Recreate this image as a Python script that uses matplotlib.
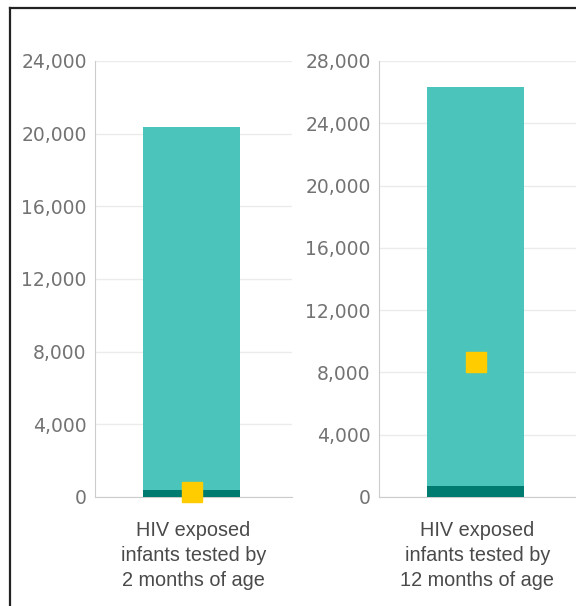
import matplotlib.pyplot as plt
from matplotlib.lines import Line2D
from matplotlib.ticker import FuncFormatter

categories = ["HIV exposed\ninfants tested by\n2 months of age",
              "HIV exposed\ninfants tested by\n12 months of age"]
totals = [20350, 26350]
dark_vals = [380, 720]
marker_vals = [280, 8680]
y_max = [24000, 28000]
y_step = [4000, 4000]

teal = '#4bc5bb'
dark = '#007b6f'
yellow = '#ffcc00'

fig = plt.figure(figsize=(5.76, 6.06), dpi=100)
fig.patch.set_facecolor('white')

# frame (only left and top edges visible in the crop)
fig.add_artist(Line2D([9.5/576, 9.5/576], [0, 1 - 8/606], color='#222222', lw=1.6, transform=fig.transFigure))
fig.add_artist(Line2D([9.5/576, 1], [1 - 8/606, 1 - 8/606], color='#222222', lw=1.6, transform=fig.transFigure))

lefts = [95/576, 379/576]
widths = [197/576, 197/576]
bottom = 1 - 497/606
height = (497 - 61)/606

fmt = FuncFormatter(lambda v, p: f"{int(v):,}")

for i in range(2):
    ax = fig.add_axes([lefts[i], bottom, widths[i], height])
    ax.bar(-0.01, totals[i], width=0.49, color=teal, zorder=2)
    ax.bar(-0.01, dark_vals[i], width=0.49, color=dark, zorder=3)
    ax.plot(-0.01, marker_vals[i], 's', color=yellow, markersize=14.5, zorder=4, clip_on=False)
    ax.set_xlim(-0.5, 0.5)
    ax.set_ylim(0, y_max[i])
    ax.set_yticks(range(0, y_max[i] + 1, y_step[i]))
    ax.yaxis.set_major_formatter(fmt)
    ax.grid(axis='y', color='#ebebeb', lw=1, zorder=0)
    ax.set_axisbelow(True)
    for s in ['top', 'right']:
        ax.spines[s].set_visible(False)
    ax.spines['left'].set_color('#cccccc')
    ax.spines['bottom'].set_color('#cccccc')
    ax.tick_params(axis='y', length=0, pad=6, labelsize=13.5, labelcolor='#737373')
    ax.set_xticks([0])
    ax.set_xticklabels([categories[i]], fontsize=14.3, color='#4a4a4a',
                       family='Liberation Sans', linespacing=1.38)
    ax.tick_params(axis='x', length=0, pad=17.5)

fig.savefig('out.png', dpi=100)
